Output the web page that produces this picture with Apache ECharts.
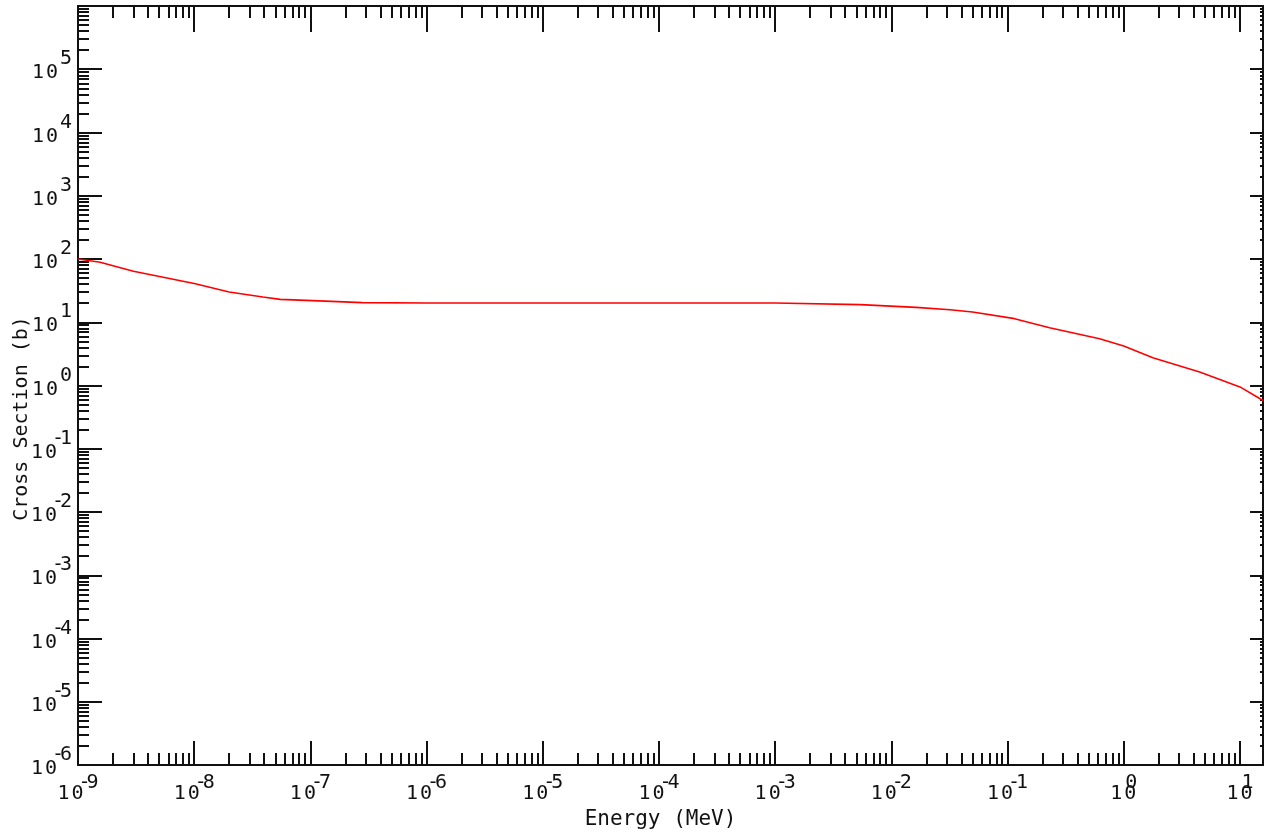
<!DOCTYPE html>
<html>
<head>
<meta charset="utf-8">
<title>Cross Section</title>
<script src="https://cdn.jsdelivr.net/npm/echarts@6/dist/echarts.min.js"></script>
<style>
  html, body { margin: 0; padding: 0; background: #fff; }
  #chart { width: 1264px; height: 832px; }
</style>
</head>
<body>
<div id="chart"></div>
<script>
// energy in MeV, cross section in barns
const energy = [1e-9, 1.55e-9, 3e-9, 1e-8, 2e-8, 3.9e-8, 5.5e-8, 1.05e-7, 2.8e-7,
  1e-6, 1e-5, 1e-4, 1e-3, 5.4e-3, 1.63e-2, 3.2e-2, 5e-2, 0.115, 0.23, 0.62, 1.0,
  1.78, 4.5, 10, 15.8];
const xs = [100, 89, 64, 41, 30, 25, 23, 22, 20.4,
  20.2, 20.2, 20.2, 20.1, 19, 17.2, 15.8, 14.5, 11.4, 8.2, 5.5, 4.2,
  2.75, 1.63, 0.95, 0.58];

const xDecades = [-9, -8, -7, -6, -5, -4, -3, -2, -1, 0, 1];
const yDecades = [-6, -5, -4, -3, -2, -1, 0, 1, 2, 3, 4, 5, 6];
const yLabelDecades = [-6, -5, -4, -3, -2, -1, 0, 1, 2, 3, 4, 5];
const xMin = 1e-9, xMax = 15.8;
const yMin = 1e-6, yMax = 1e6;

const pow10 = e => Number('1e' + e);
const xMajor = xDecades.map(pow10);
const yMajor = yDecades.map(pow10);
const yLabels = yLabelDecades.map(pow10);

function minorsOf(decades, max) {
  const out = [];
  decades.forEach(d => {
    for (let k = 2; k <= 9; k++) {
      const v = Number(k + 'e' + d);
      if (v < max) out.push(v);
    }
  });
  return out;
}
const xMinor = minorsOf(xDecades, xMax);
const yMinor = minorsOf(yDecades, yMax);

const font = '"DejaVu Sans Mono", "Liberation Mono", monospace';
const ink = '#111';
const fs = 20;

// the minus of a negative exponent overlaps the "0" like the original plotter
function xLabel(v) {
  const e = Math.round(Math.log10(v));
  if (e < 0) return '{b1|1}{n|0}{m|-}{e|' + (-e) + '}';
  return '{b1|1}{z|0}{e|' + e + '}';
}
function yLabel(v) {
  const e = Math.round(Math.log10(v));
  if (e < 0) return '{b1|1}{n|0}{m|-}{e|' + (-e) + '}';
  return '{b1|1}{b0|0}{p|' + e + '}';
}

function baseAxis(pos, min, max) {
  return {
    type: 'log', logBase: 10, position: pos, min: min, max: max,
    splitLine: { show: false },
    axisLine: { show: false },
    axisLabel: { show: false },
    axisTick: { show: false }
  };
}

function tickAxis(pos, min, max, values, len, line) {
  const a = baseAxis(pos, min, max);
  a.axisTick = { show: true, inside: true, length: len, customValues: values,
    lineStyle: { color: ink, width: 2 } };
  if (line) a.axisLine = { show: true, lineStyle: { color: ink, width: 2 } };
  return a;
}

const t = { fontFamily: font, fontSize: fs, color: ink, align: 'left' };
const st = (extra) => Object.assign({}, t, extra);

const xMain = tickAxis('bottom', xMin, xMax, xMajor, 24, true);
xMain.axisLabel = {
  show: true, customValues: xMajor, margin: 8, formatter: xLabel,
  rich: {
    b1: st({ padding: [0, 2, 0, 0] }),
    z: st({ width: 1 }),
    n: st({ width: 7 }),
    m: st({ width: 8, padding: [0, 0, 22, 0] }),
    e: st({ padding: [0, 0, 22, 0] })
  }
};
xMain.name = 'Energy (MeV)';
xMain.nameLocation = 'middle';
xMain.nameGap = 44;
xMain.nameMoveOverlap = false;
xMain.nameTextStyle = { fontFamily: font, fontSize: 21, color: ink, padding: [0, 20, 0, 0] };

const yMain = tickAxis('left', yMin, yMax, yMajor, 24, true);
yMain.axisLabel = {
  show: true, customValues: yLabels, margin: 6, formatter: yLabel,
  rich: {
    b1: st({ padding: [8, 2, 0, 0] }),
    b0: st({ padding: [8, 0, 0, 0] }),
    n: st({ width: 7, padding: [8, 0, 0, 0] }),
    m: st({ width: 8, padding: [0, 0, 20, 0] }),
    e: st({ padding: [0, 0, 20, 0] }),
    p: st({ padding: [0, 0, 20, 2] })
  }
};
yMain.name = 'Cross Section (b)';
yMain.nameLocation = 'middle';
yMain.nameGap = 46;
yMain.nameMoveOverlap = false;
yMain.nameTextStyle = { fontFamily: font, fontSize: 20, color: ink, padding: [0, 66, 0, 0] };

const chart = echarts.init(document.getElementById('chart'), null, { renderer: 'canvas' });

const option = {
  backgroundColor: '#fff',
  animation: false,
  grid: { left: 78, top: 6, right: 1, bottom: 67, outerBoundsMode: 'none', containLabel: false },
  xAxis: [
    xMain,
    tickAxis('bottom', xMin, xMax, xMinor, 12, false),
    tickAxis('top', xMin, xMax, xMajor, 26, true),
    tickAxis('top', xMin, xMax, xMinor, 12, false)
  ],
  yAxis: [
    yMain,
    tickAxis('left', yMin, yMax, yMinor, 11, false),
    tickAxis('right', yMin, yMax, yMajor, 13, true),
    tickAxis('right', yMin, yMax, yMinor, 3, false)
  ],
  series: [{
    type: 'line',
    xAxisIndex: 0,
    yAxisIndex: 0,
    data: energy.map((e, i) => [e, xs[i]]),
    showSymbol: false,
    lineStyle: { color: '#ff0000', width: 1.6 },
    silent: true
  }]
};

chart.setOption(option);
</script>
</body>
</html>
